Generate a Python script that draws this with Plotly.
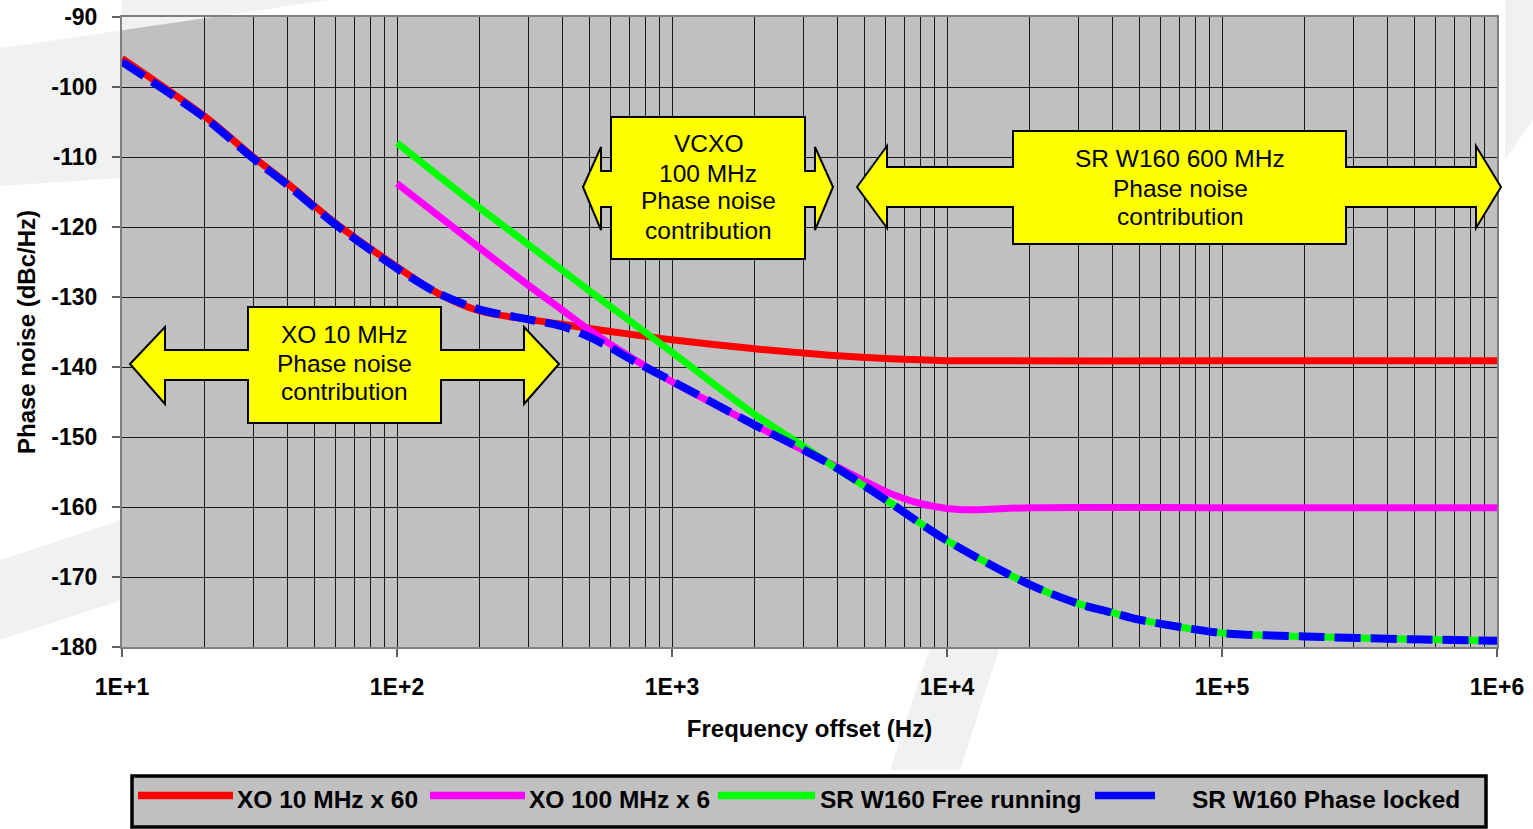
import plotly.graph_objects as go

# ---------------- data ----------------
freq_xo10 = [10, 20, 30, 40, 60, 100, 140, 200, 300, 400, 500, 700, 1000, 2000, 3000, 4000, 6000, 10000, 100000, 1000000]
pn_xo10 = [-95.9, -104.2, -110.0, -113.8, -119.5, -125.7, -129.4, -132.0, -133.2, -133.9, -134.5, -135.3, -136.1,
           -137.4, -138.0, -138.4, -138.8, -139.1, -139.1, -139.1]

freq_xo100 = [100, 200, 300, 400, 500, 700, 1000, 2000, 3000, 4000, 6000, 8000, 10000, 12500, 20000, 100000, 1000000]
pn_xo100 = [-113.8, -123.0, -128.3, -131.9, -134.7, -138.5, -142.1, -148.3, -151.9, -154.3, -157.8, -159.5, -160.2,
            -160.4, -160.1, -160.1, -160.1]

freq_sr = [100, 200, 300, 500, 1000, 2000, 3000, 4000, 6000, 10000, 20000, 30000, 40000, 50000, 100000, 200000,
           500000, 1000000]
pn_sr = [-108.0, -117.3, -122.5, -129.1, -137.9, -146.8, -151.3, -154.6, -159.0, -164.8, -171.1, -173.8, -175.1,
         -176.1, -178.0, -178.5, -178.9, -179.1]

freq_pl = [10, 20, 30, 40, 60, 100, 140, 200, 300, 400, 500, 600, 700, 1000, 2000, 3000, 4000, 6000, 10000, 20000,
           30000, 40000, 50000, 100000, 200000, 500000, 1000000]
pn_pl = [-96.4, -104.4, -110.2, -114.0, -119.7, -125.9, -129.4, -131.8, -133.2, -134.2, -135.7, -137.3, -138.8,
         -142.0, -148.3, -151.8, -154.5, -159.0, -164.8, -171.1, -173.8, -175.1, -176.1, -178.0, -178.5, -178.9, -179.1]

series_names = ["XO 10 MHz x 60", "XO 100 MHz x 6", "SR W160 Free running", "SR W160 Phase locked"]
series_colors = ["#FF0000", "#FF00FF", "#00FF00", "#0000FF"]

x_tickvals = [10, 100, 1000, 10000, 100000, 1000000]
x_ticktext = ["1E+1", "1E+2", "1E+3", "1E+4", "1E+5", "1E+6"]
y_tickvals = [-90, -100, -110, -120, -130, -140, -150, -160, -170, -180]
y_ticktext = ["-90", "-100", "-110", "-120", "-130", "-140", "-150", "-160", "-170", "-180"]

box_texts = [
    ["XO 10 MHz", "Phase noise", "contribution"],
    ["VCXO", "100 MHz", "Phase noise", "contribution"],
    ["SR W160 600 MHz", "Phase noise", "contribution"],
]

# ---------------- layout geometry (pixels) ----------------
W, H = 1533, 829
L, R, T, B = 122, 1497, 17, 647


def px(x):
    return (x - L) / (R - L)


def py(y):
    return (B - y) / (B - T)


def path(points):
    return "M " + " L ".join(f"{px(x):.5f},{py(y):.5f}" for x, y in points) + " Z"


FONT = "Liberation Sans, Arial, sans-serif"

fig = go.Figure()
data = [(freq_xo10, pn_xo10), (freq_xo100, pn_xo100), (freq_sr, pn_sr), (freq_pl, pn_pl)]
for i, (fx, fy) in enumerate(data):
    fig.add_trace(go.Scatter(
        x=fx, y=fy, mode="lines", name=series_names[i],
        line=dict(color=series_colors[i], width=8 if i == 3 else 7, shape="spline", smoothing=0.8,
                  dash="26px,10px" if i == 3 else "solid"),
        showlegend=False, hoverinfo="x+y+name",
    ))

shapes = []
# faint watermark shapes in the page background
wm = "#F0F2F2"
shapes.append(dict(type="path", xref="paper", yref="paper", layer="below", fillcolor=wm, line=dict(width=0),
                   path=path([(0, 48), (330, 0), (122, 0), (122, 178), (0, 186)])))
shapes.append(dict(type="path", xref="paper", yref="paper", layer="below", fillcolor=wm, line=dict(width=0),
                   path=path([(0, 560), (122, 520), (122, 600), (0, 640)])))
shapes.append(dict(type="path", xref="paper", yref="paper", layer="below", fillcolor=wm, line=dict(width=0),
                   path=path([(930, 647), (1000, 647), (960, 770), (890, 770)])))
shapes.append(dict(type="path", xref="paper", yref="paper", layer="below", fillcolor=wm, line=dict(width=0),
                   path=path([(1505, 0), (1533, 0), (1533, 120), (1505, 160)])))

# Double arrows (yellow)
arrows = [
    [(130, 364), (165, 327), (165, 350), (248, 350), (248, 307), (441, 307), (441, 350), (524, 350), (524, 327),
     (559, 364), (524, 404), (524, 380), (441, 380), (441, 423), (248, 423), (248, 380), (165, 380), (165, 404)],
    [(583, 187), (601, 147), (601, 171), (611, 171), (611, 117), (805, 117), (805, 171), (815, 171), (815, 147),
     (833, 187), (815, 230), (815, 207), (805, 207), (805, 259), (611, 259), (611, 207), (601, 207), (601, 230)],
    [(857, 187), (887, 146), (887, 167), (1013, 167), (1013, 131), (1346, 131), (1346, 167), (1476, 167),
     (1476, 146), (1501, 187), (1476, 228), (1476, 207), (1346, 207), (1346, 244), (1013, 244), (1013, 207),
     (887, 207), (887, 228)],
]
for a in arrows:
    shapes.append(dict(type="path", xref="paper", yref="paper", path=path(a),
                       fillcolor="#FFFF00", line=dict(color="#000000", width=2), layer="above"))

# legend box
shapes.append(dict(type="rect", xref="paper", yref="paper", x0=px(132), x1=px(1486), y0=py(776), y1=py(827),
                   fillcolor="#C0C0C0", line=dict(color="#000000", width=3.5), layer="above"))
leg_lines = [(138, 233), (430, 525), (718, 815), (1095, 1155)]
for i, (x0, x1) in enumerate(leg_lines):
    shapes.append(dict(type="line", xref="paper", yref="paper", x0=px(x0), x1=px(x1), y0=py(795.5),
                       y1=py(795.5), line=dict(color=series_colors[i], width=7.5), layer="above"))

annotations = []
text_pos = [
    (344, [333, 362, 390]),
    (708, [143, 172, 200, 229]),
    (1180, [158, 187, 215]),
]
for (cx, ys), lines in zip(text_pos, box_texts):
    for y, t in zip(ys, lines):
        annotations.append(dict(xref="paper", yref="paper", x=px(cx), y=py(y + 1), text=t, showarrow=False,
                                xanchor="center", yanchor="middle",
                                font=dict(family=FONT, size=24.5, color="#000000")))

leg_text_x = [235, 527, 818, 1190]
for i, x in enumerate(leg_text_x):
    annotations.append(dict(xref="paper", yref="paper", x=px(x), y=py(799), text=f"<b>{series_names[i]}</b>",
                            showarrow=False, xanchor="left", yanchor="middle",
                            font=dict(family=FONT, size=24.5, color="#000000")))

minor_vals = [m * 10 ** d for d in range(1, 6) for m in range(2, 10)]

fig.update_layout(
    width=W, height=H, autosize=False,
    margin=dict(l=L, r=W - R, t=T, b=H - B, pad=0),
    paper_bgcolor="#FFFFFF", plot_bgcolor="#C0C0C0",
    font=dict(family=FONT, size=24, color="#000000"),
    shapes=shapes, annotations=annotations, showlegend=False,
    xaxis=dict(
        type="log", range=[1, 6], tickvals=x_tickvals, ticktext=x_ticktext, automargin=False,
        tickfont=dict(family=FONT, size=23, color="#000000", weight="bold"),
        ticks="outside", ticklen=8, tickcolor="#606060", tickwidth=1.5, ticklabelstandoff=10,
        showgrid=True, gridcolor="#1a1a1a", gridwidth=1,
        minor=dict(tickvals=minor_vals, showgrid=True, gridcolor="#1a1a1a", gridwidth=1, ticks=""),
        showline=True, linecolor="#808080", linewidth=2, mirror=True, zeroline=False,
        title=dict(text="<b>Frequency offset (Hz)</b>", font=dict(family=FONT, size=24, color="#000000"),
                   standoff=22),
    ),
    yaxis=dict(
        range=[-180, -90], tickvals=y_tickvals, ticktext=y_ticktext, tickmode="array", automargin=False,
        tickfont=dict(family=FONT, size=23, color="#000000", weight="bold"),
        ticks="outside", ticklen=8, tickcolor="#606060", tickwidth=1.5, ticklabelstandoff=10,
        showgrid=True, gridcolor="#1a1a1a", gridwidth=1,
        showline=True, linecolor="#808080", linewidth=2, mirror=True, zeroline=False,
        title=dict(text="<b>Phase noise (dBc/Hz)</b>", font=dict(family=FONT, size=24, color="#000000"),
                   standoff=9),
    ),
)

fig.write_html("out.html")
